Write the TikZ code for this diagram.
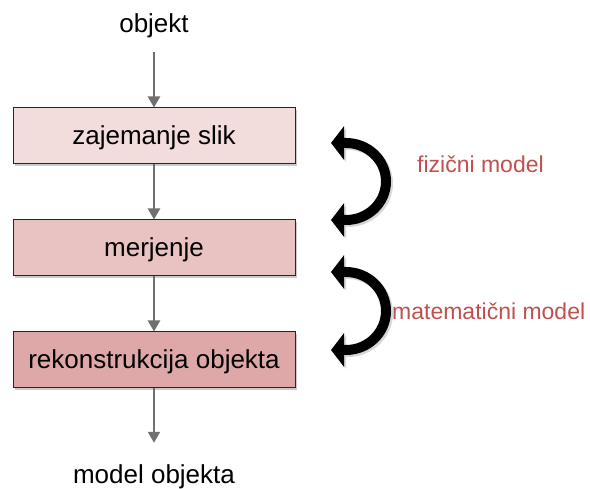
\documentclass[tikz,border=0pt]{standalone}
\usepackage{fontspec}
\setmainfont{Liberation Sans}
\usetikzlibrary{arrows.meta,shadows}
\definecolor{boxA}{RGB}{242,220,220}
\definecolor{boxB}{RGB}{233,194,194}
\definecolor{boxC}{RGB}{222,168,168}
\definecolor{redtxt}{RGB}{192,80,77}
\definecolor{flowgray}{RGB}{112,112,112}
\begin{document}
\begin{tikzpicture}[x=1pt,y=-1pt,
  stage/.style={draw=black!85, line width=1pt, minimum width=282pt, minimum height=56pt,
    inner sep=0pt, text height=19pt, text depth=1pt, font=\fontsize{26}{30}\selectfont,
    drop shadow={shadow xshift=2pt, shadow yshift=-2pt, fill=black!35, opacity=0.6}},
  lbl/.style={font=\fontsize{26}{30}\selectfont, inner sep=0pt, anchor=base, text height=19pt, text depth=5pt},
  redlbl/.style={font=\fontsize{23}{27}\selectfont, text=redtxt, inner sep=0pt, anchor=base west},
  flow/.style={draw=flowgray, line width=2pt, -{Triangle[length=11pt,width=12pt]}},
  loop/.style={line width=10pt, {Triangle[length=13pt,width=33pt]}-{Triangle[length=13pt,width=33pt]}},
  loopshadow/.style={loop, draw=black!22, opacity=0.7}
]
\useasboundingbox (0,0) rectangle (590,489);

% text ends
\node[lbl] (obj) at (154,33) {objekt};
\node[lbl] (mo) at (154,484) {model objekta};

% stages
\node[stage, fill=boxA] (b1) at (154,136) {zajemanje slik};
\node[stage, fill=boxB] (b2) at (154,248) {merjenje};
\node[stage, fill=boxC] (b3) at (154,360) {rekonstrukcija objekta};

% flow arrows
\draw[flow] ([yshift=-14pt]obj.south) -- (b1.north);
\draw[flow] (b1.south) -- (b2.north);
\draw[flow] (b2.south) -- (b3.north);
\draw[flow] (b3.south) -- ([yshift=22pt]mo.north);

% curved arrows
\coordinate (l1a) at (331,143);
\coordinate (l1b) at (331,220);
\coordinate (l2a) at (331,272);
\coordinate (l2b) at (331,350);
\coordinate (s1a) at (333,145);
\coordinate (s1b) at (333,222);
\coordinate (s2a) at (333,274);
\coordinate (s2b) at (333,352);

\draw[loopshadow] (s1a) -- ++(15,0) arc[start angle=90, end angle=-90, x radius=40pt, y radius=38.5pt] -- (s1b);
\draw[loopshadow] (s2a) -- ++(15,0) arc[start angle=90, end angle=-90, x radius=40pt, y radius=39pt] -- (s2b);
\draw[loop] (l1a) -- ++(15,0) arc[start angle=90, end angle=-90, x radius=40pt, y radius=38.5pt] -- (l1b);
\draw[loop] (l2a) -- ++(15,0) arc[start angle=90, end angle=-90, x radius=40pt, y radius=39pt] -- (l2b);

% labels
\node[redlbl] (fiz) at (417,173) {fizični model};
\node[redlbl] (mat) at (392,320) {matematični model};
\end{tikzpicture}
\end{document}
